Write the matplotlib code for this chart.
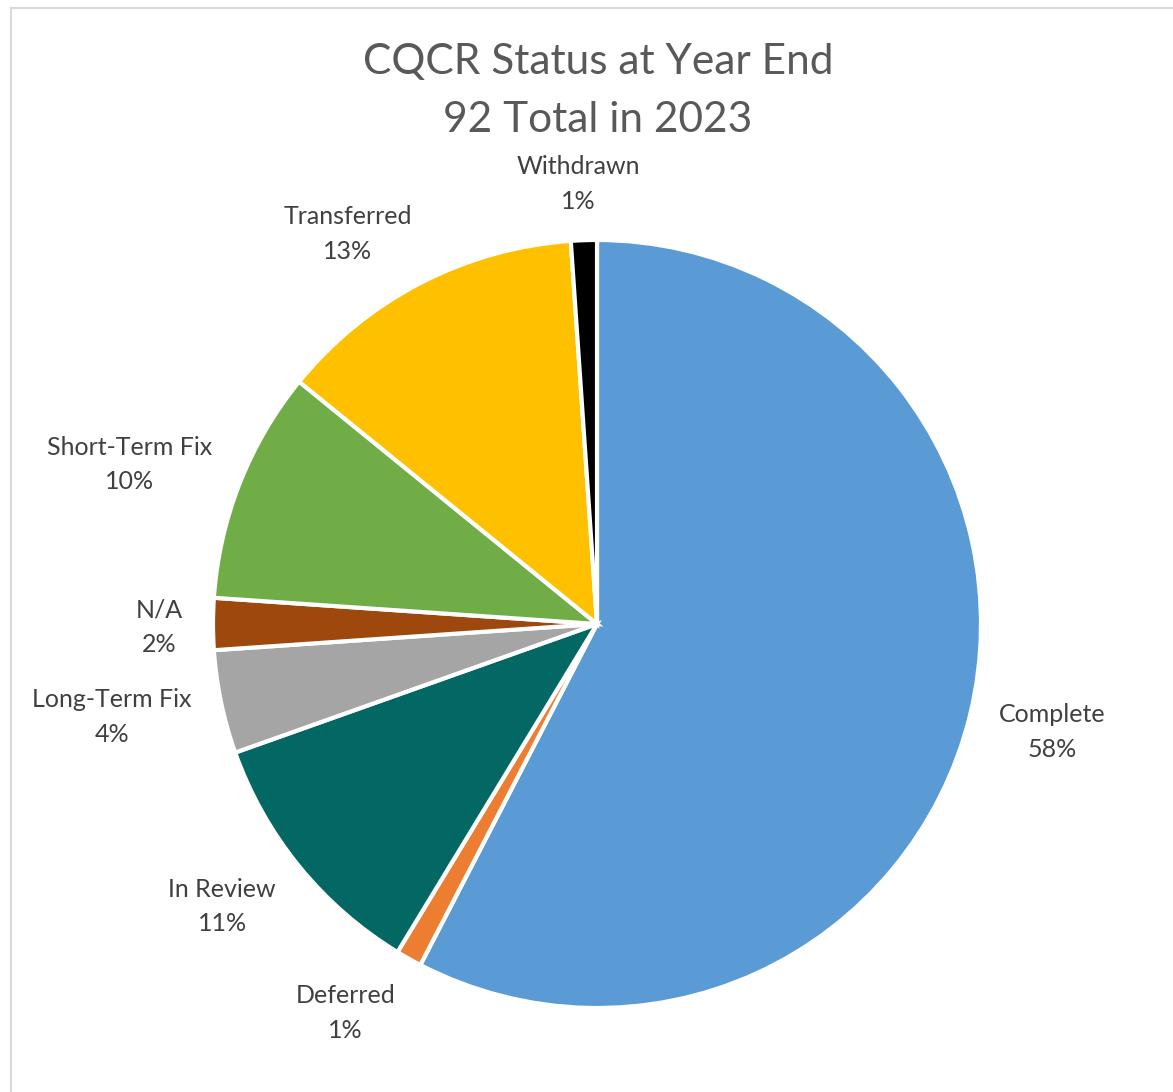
import numpy as np
import matplotlib.pyplot as plt
from matplotlib.patches import Rectangle

plt.rcParams['font.family'] = ['Lato', 'DejaVu Sans']

categories = ['Complete', 'Deferred', 'In Review', 'Long-Term Fix', 'N/A',
              'Short-Term Fix', 'Transferred', 'Withdrawn']
counts = [53, 1, 10, 4, 2, 9, 12, 1]
colors = ['#5B9BD5', '#ED7D31', '#036864', '#A5A5A5', '#9E480E',
          '#70AD47', '#FFC000', '#000000']
title = 'CQCR Status at Year End\n92 Total in 2023'

W, H = 1173, 1092
fig = plt.figure(figsize=(W / 100, H / 100), dpi=100)
# chart border
fig.patches.append(Rectangle((11 / W, -0.01), 1.0, 1.0 - 8 / H + 0.01,
                             transform=fig.transFigure, fill=False,
                             edgecolor='#D9D9D9', linewidth=1.5))

# pie area: center (597, 624), radius 384 px
R = 384
cx, cy = 597, 624
ax = fig.add_axes([(cx - R) / W, 1 - (cy + R) / H, 2 * R / W, 2 * R / H])

total = sum(counts)
labels = ['%s\n%d%%' % (c, round(100 * v / total)) for c, v in zip(categories, counts)]

wedges, _ = ax.pie(counts, colors=colors, startangle=90, counterclock=False,
                   wedgeprops=dict(edgecolor='white', linewidth=3))
ax.set_xlim(-1, 1)
ax.set_ylim(-1, 1)
ax.set_aspect('equal')

# labels sit just outside the rim, pushed out by their own box size
renderer = fig.canvas.get_renderer()
gap = 30 / R
for w, lab in zip(wedges, labels):
    th = np.deg2rad((w.theta1 + w.theta2) / 2)
    ux, uy = np.cos(th), np.sin(th)
    t = ax.text(0, 0, lab, ha='center', va='center', fontsize=18,
                color='#404040', linespacing=1.62)
    bb = t.get_window_extent(renderer)
    hw, hh = bb.width / 2 / R, bb.height / 2 / R
    x = (1 + gap) * ux + hw * np.clip(2 * ux, -1, 1)
    y = (1 + gap) * uy + hh * uy - 3 / R
    t.set_position((x, y))

fig.text(598 / W, 1 - 91 / H, title, ha='center', va='center',
         fontsize=30.5, color='#595959', linespacing=1.66)

fig.savefig('out.png', dpi=100)
